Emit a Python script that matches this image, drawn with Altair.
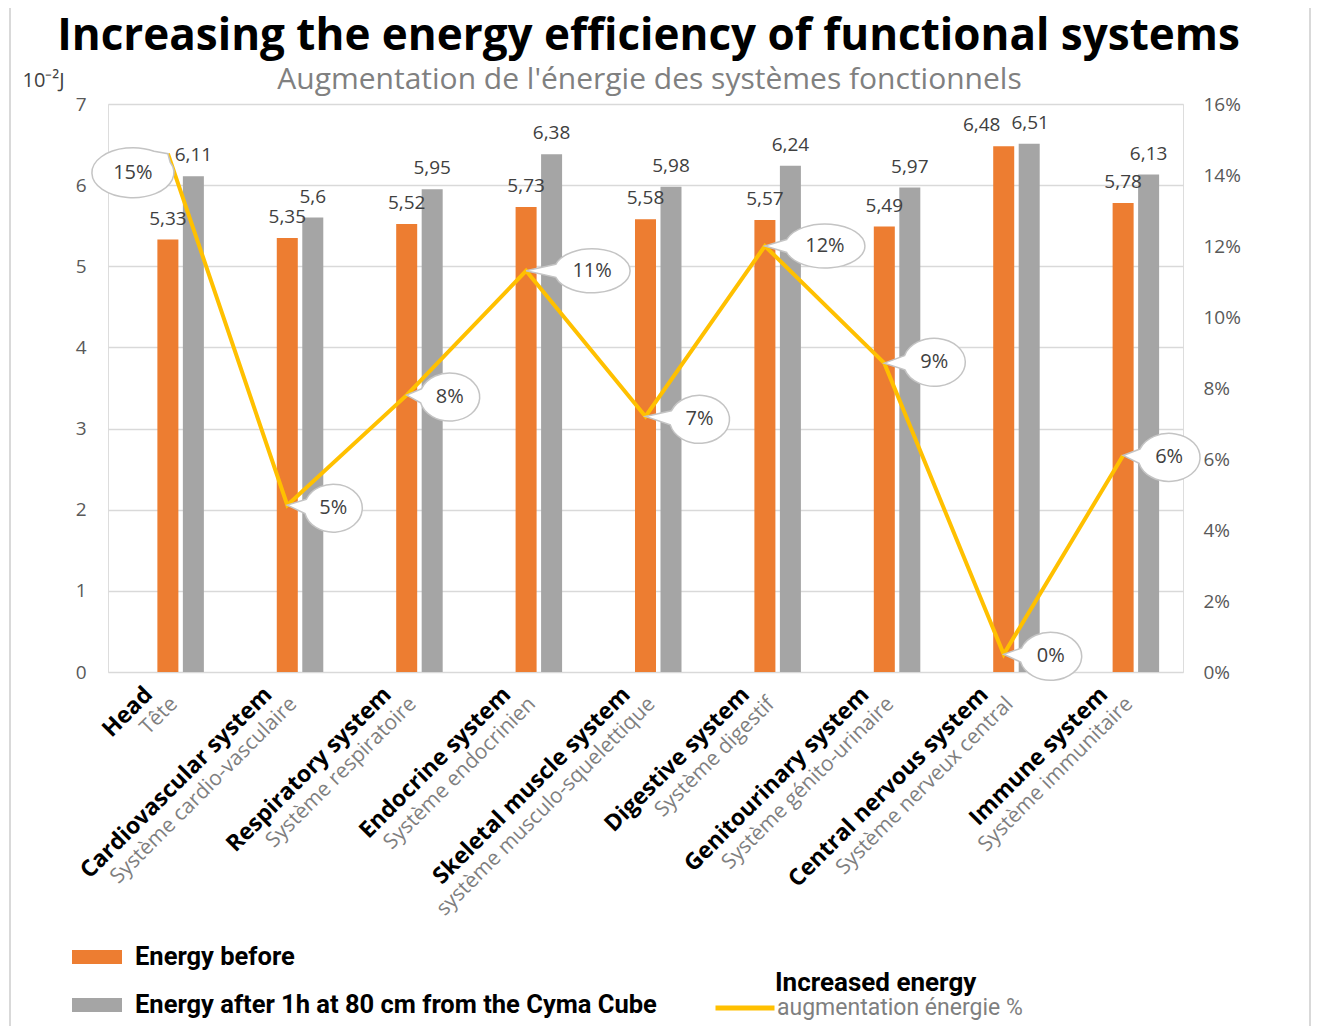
import math
import altair as alt
import pandas as pd

# ---------------- data ----------------
cats_en = ["Head", "Cardiovascular system", "Respiratory system", "Endocrine system",
           "Skeletal muscle system", "Digestive system", "Genitourinary system",
           "Central nervous system", "Immune system"]
cats_fr = ["Tête", "Système cardio-vasculaire", "Système respiratoire", "Système endocrinien",
           "système musculo-squelettique", "Système digestif", "Système génito-urinaire",
           "Système nerveux central", "Système immunitaire"]
before = [5.33, 5.35, 5.52, 5.73, 5.58, 5.57, 5.49, 6.48, 5.78]
after = [6.11, 5.6, 5.95, 6.38, 5.98, 6.24, 5.97, 6.51, 6.13]
pct = [14.6, 4.7, 7.8, 11.3, 7.2, 12.0, 8.7, 0.5, 6.1]
pct_labels = ["15%", "5%", "8%", "11%", "7%", "12%", "9%", "0%", "6%"]

TITLE = "Increasing the energy efficiency of functional systems"
SUBTITLE = "Augmentation de l'énergie des systèmes fonctionnels"
S1 = "Energy before"
S2 = "Energy after 1h at 80 cm from the Cyma Cube"
LN = "augmentation énergie %"
LN_TITLE = "Increased energy"

# ---------------- style ----------------
W, H = 1075, 568
ORANGE, GRAY, YELLOW = "#ED7D31", "#A5A5A5", "#FFC000"
TXT = "#404040"
FONT = "Open Sans"
NARROW = "Roboto"

# callout geometry (ellipse centre offset from the line vertex, radii) in px
callout_geom = {
    "Head": (-35, 19, 41, 25),
    "Cardiovascular system": (46, 3, 29, 24),
    "Respiratory system": (43, 2, 30, 24),
    "Endocrine system": (66, 0, 38, 22),
    "Skeletal muscle system": (54, 3, 30, 24),
    "Digestive system": (60, 0, 40, 22),
    "Genitourinary system": (50, -1, 31, 24),
    "Central nervous system": (47, 2, 31, 24),
    "Immune system": (46, 2, 31, 24),
}


def callout_path(cx, cy, rx, ry, d=0.3):
    t = math.atan2(-cy / ry, -cx / rx)
    p1 = (cx + rx * math.cos(t - d), cy + ry * math.sin(t - d))
    p2 = (cx + rx * math.cos(t + d), cy + ry * math.sin(t + d))
    return (f"M{p2[0]:.1f},{p2[1]:.1f}L0,0L{p1[0]:.1f},{p1[1]:.1f}"
            f"A{rx},{ry} 0 1 0 {p2[0]:.1f},{p2[1]:.1f}Z")


# ---------------- tables ----------------
bars_df = pd.DataFrame({
    "cat": cats_en * 2,
    "series": [S1] * len(cats_en) + [S2] * len(cats_en),
    "value": before + after,
})
line_df = pd.DataFrame({"cat": cats_en, "pct": pct, "label": pct_labels, "lname": LN})
line_df["shape"] = [callout_path(*callout_geom[c]) for c in cats_en]
lab_df = pd.DataFrame({"cat": cats_en, "fr": cats_fr})

x_scale = alt.Scale(domain=cats_en, paddingInner=0.397, paddingOuter=0.2)
X = alt.X("cat:N", sort=cats_en, scale=x_scale, axis=None)
off_scale = alt.Scale(domain=["_", S1, S2], paddingInner=0.176, paddingOuter=0)
XO = alt.XOffset("series:N", scale=off_scale)
Y1 = alt.Y("value:Q", scale=alt.Scale(domain=[0, 7]),
           axis=alt.Axis(values=list(range(8)), grid=True, gridColor="#d9d9d9", gridWidth=1.5,
                         domain=False, ticks=False, labelPadding=22, labelFontSize=19,
                         labelColor="#595959", labelFont=FONT,
                         title="10⁻²J", titleAngle=0, titleX=-86, titleY=-24,
                         titleAlign="left", titleBaseline="middle", titleFontSize=20,
                         titleFontWeight="normal", titleColor=TXT, titleFont=FONT))
Y2 = alt.Y("pct:Q", scale=alt.Scale(domain=[0, 16]),
           axis=alt.Axis(orient="right", values=list(range(0, 17, 2)),
                         labelExpr="datum.value + '%'", grid=False, domain=False, ticks=False,
                         labelPadding=20, labelFontSize=19, labelColor="#595959",
                         labelFont=FONT, title=None))

fill_legend = alt.Legend(orient="none", legendX=-36, legendY=828, direction="vertical",
                         title=None, symbolType="M-1,-0.28H1V0.28H-1Z", symbolSize=2500,
                         symbolStrokeWidth=0, labelFont=NARROW, labelFontSize=25.5,
                         labelFontWeight="bold", labelColor="black", labelOffset=13,
                         rowPadding=9, padding=0, labelLimit=0)
stroke_legend = alt.Legend(orient="none", legendX=605, legendY=872, title=None,
                           symbolType="stroke", symbolSize=3481, symbolStrokeWidth=5,
                           labelFont=NARROW, labelFontSize=23, labelColor="#7f7f7f",
                           labelOffset=0, padding=0, labelLimit=0)

base_b = alt.Chart(bars_df)
bars = base_b.mark_bar().encode(
    x=X, xOffset=XO, y=Y1,
    fill=alt.Fill("series:N", scale=alt.Scale(domain=[S1, S2], range=[ORANGE, GRAY]),
                  legend=fill_legend),
)


def bar_text(cond, dx):
    return base_b.transform_filter(cond).transform_calculate(
        lbl="replace(toString(datum.value), '.', ',')"
    ).mark_text(baseline="alphabetic", dy=-15, dx=dx, fontSize=19, color=TXT, font=FONT).encode(
        x=X, xOffset=XO, y=Y1, text="lbl:N")


cns = "datum.cat == 'Central nervous system'"
t1 = bar_text(f"datum.series == '{S1}' && !({cns})", 0)
t2 = bar_text(f"datum.series == '{S2}' && !({cns})", 0)
t3 = bar_text(f"datum.series == '{S1}' && {cns}", -22)
t4 = bar_text(f"datum.series == '{S2}' && {cns}", 1)
bars_layer = alt.layer(bars, t1, t2, t3, t4)

base_l = alt.Chart(line_df)
line = base_l.mark_line(strokeWidth=4).encode(
    x=X, y=Y2,
    stroke=alt.Stroke("lname:N", scale=alt.Scale(domain=[LN], range=[YELLOW]),
                      legend=stroke_legend),
)
bubbles = base_l.mark_point(size=4, filled=True, fill="white", stroke="#c4c4c4",
                            strokeWidth=1.5, opacity=1).encode(
    x=X, y=Y2, shape=alt.Shape("shape:N", scale=None))
bubble_texts = []
for c in cats_en:
    cx, cy, rx, ry = callout_geom[c]
    bubble_texts.append(
        base_l.transform_filter(alt.datum.cat == c).mark_text(
            dx=cx, dy=cy, fontSize=20, color=TXT, font=FONT, align="center",
            baseline="middle").encode(x=X, y=Y2, text="label:N"))
pct_layer = alt.layer(line, bubbles, *bubble_texts)

base_lab = alt.Chart(lab_df)
en_labels = base_lab.mark_text(angle=315, align="right", baseline="middle", dx=-27, dy=0,
                               fontSize=23, fontWeight="bold", color="black", font=FONT).encode(
    x=X, y=alt.value(H), text="cat:N")
fr_labels = base_lab.mark_text(angle=315, align="right", baseline="middle", dx=-16, dy=25,
                               fontSize=21, color="#7f7f7f", font=FONT).encode(
    x=X, y=alt.value(H), text="fr:N")

texts_df = pd.DataFrame({"t": [TITLE, SUBTITLE, LN_TITLE]})
title_mark = alt.Chart(texts_df).transform_filter(alt.datum.t == TITLE).mark_text(
    align="center", baseline="alphabetic", fontSize=44, fontWeight="bold", font=FONT,
    color="black").encode(x=alt.value(W / 2 + 3), y=alt.value(-54), text="t:N")
subtitle_mark = alt.Chart(texts_df).transform_filter(alt.datum.t == SUBTITLE).mark_text(
    align="center", baseline="alphabetic", fontSize=30, font=FONT,
    color="#808080").encode(x=alt.value(W / 2 + 4), y=alt.value(-15), text="t:N")
inc_title = alt.Chart(texts_df).transform_filter(alt.datum.t == LN_TITLE).mark_text(
    align="left", baseline="middle", fontSize=26, fontWeight="bold", font=NARROW,
    color="black").encode(x=alt.value(667), y=alt.value(879), text="t:N")
border = alt.Chart(pd.DataFrame({"x": [-98, 1202]})).mark_rule(
    color="#d9d9d9", strokeWidth=2).encode(
    x=alt.X("x:Q", scale=None), y=alt.value(-96), y2=alt.value(H + 354))

chart = alt.layer(bars_layer, pct_layer, en_labels, fr_labels, title_mark, subtitle_mark,
                  inc_title, border).resolve_scale(
    y="independent"
).properties(
    width=W, height=H,
    autosize=alt.AutoSizeParams(type="none"),
    padding={"left": 100, "top": 96, "right": 128, "bottom": 354},
).configure_view(strokeWidth=0, stroke="transparent").configure(font=FONT)

chart.save("out.html", embed_options={"renderer": "svg", "actions": False})
